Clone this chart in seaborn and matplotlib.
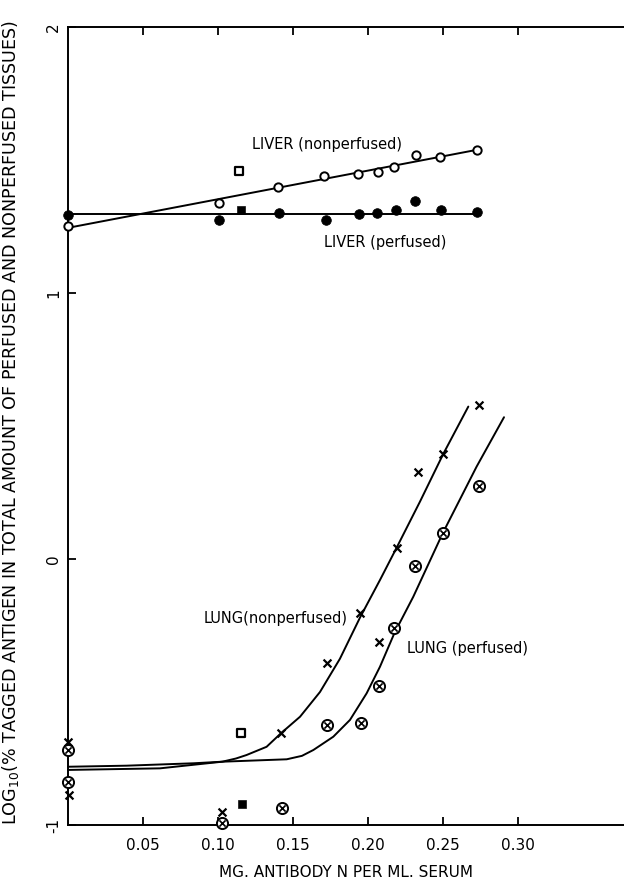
import numpy as np
import pandas as pd
import matplotlib
matplotlib.use("Agg")
import matplotlib.pyplot as plt
import seaborn as sns

sns.set_theme(style="white")
plt.rcParams['font.family'] = ['DejaVu Sans']

# ---- data ----
liver_np_x = [0.0, 0.101, 0.140, 0.171, 0.1936, 0.2064, 0.2176, 0.232, 0.248, 0.2724]
liver_np_y = [1.253, 1.338, 1.400, 1.440, 1.449, 1.456, 1.475, 1.520, 1.511, 1.538]
liver_p_x = [0.0, 0.101, 0.1407, 0.1718, 0.194, 0.206, 0.2187, 0.2316, 0.249, 0.2729]
liver_p_y = [1.293, 1.274, 1.302, 1.273, 1.298, 1.302, 1.312, 1.345, 1.312, 1.303]
liver_sq_open = (0.114, 1.457)
liver_sq_fill = (0.1153, 1.312)
liver_np_fit_x = [0.0, 0.2724]
liver_np_fit_y = [1.245, 1.538]
liver_p_fit_x = [0.0, 0.2729]
liver_p_fit_y = [1.297, 1.297]

lung_np_x = [0.0, 0.001, 0.1029, 0.142, 0.1724, 0.1947, 0.2073, 0.2191, 0.2331, 0.2502, 0.2742]
lung_np_y = [-0.687, -0.887, -0.952, -0.655, -0.392, -0.204, -0.313, 0.0425, 0.328, 0.395, 0.579]
lung_p_x = [0.0, 0.0, 0.1029, 0.1429, 0.1729, 0.1953, 0.2076, 0.2176, 0.2313, 0.2498, 0.274]
lung_p_y = [-0.718, -0.840, -0.994, -0.937, -0.624, -0.618, -0.476, -0.258, -0.026, 0.0965, 0.274]
lung_sq_open = (0.1153, -0.655)
lung_sq_fill = (0.1158, -0.921)

lung_np_fit_x = [0.0, 0.039, 0.0836, 0.1029, 0.112, 0.119, 0.1324, 0.142, 0.1547, 0.168, 0.1813,
                 0.1947, 0.208, 0.2191, 0.2347, 0.2502, 0.2669]
lung_np_fit_y = [-0.781, -0.777, -0.768, -0.762, -0.750, -0.737, -0.706, -0.655, -0.593, -0.500, -0.375,
                 -0.220, -0.079, 0.0425, 0.216, 0.395, 0.573]
lung_p_fit_x = [0.0, 0.0613, 0.1029, 0.1458, 0.1560, 0.1636, 0.1769, 0.188, 0.1991, 0.208, 0.2176,
                0.2302, 0.2498, 0.2724, 0.2907]
lung_p_fit_y = [-0.793, -0.787, -0.762, -0.753, -0.740, -0.718, -0.668, -0.605, -0.505, -0.405, -0.279,
                -0.142, 0.0965, 0.347, 0.533]

x_ticks = [0.05, 0.10, 0.15, 0.20, 0.25, 0.30]
x_ticklabels = ["0.05", "0.10", "0.15", "0.20", "0.25", "0.30"]
y_ticks = [-1, 0, 1, 2]
y_ticklabels = ["-1", "0", "1", "2"]

labels = {
    "LIVER (nonperfused)": (0.123, 1.56),
    "LIVER (perfused)": (0.171, 1.19),
    "LUNG(nonperfused)": (0.0905, -0.225),
    "LUNG (perfused)": (0.2257, -0.335),
}

y_title = "LOG$_{10}$(% TAGGED ANTIGEN IN TOTAL AMOUNT OF PERFUSED AND NONPERFUSED TISSUES)"
x_title = "MG. ANTIBODY N PER ML. SERUM"

# ---- figure ----
fig = plt.figure(figsize=(6.24, 8.85), dpi=100)
ax = fig.add_axes([68 / 624, 60 / 885, (624 - 68) / 624, (825 - 27) / 885])

lw = 1.4
for fx, fy in [(liver_np_fit_x, liver_np_fit_y), (liver_p_fit_x, liver_p_fit_y),
               (lung_np_fit_x, lung_np_fit_y), (lung_p_fit_x, lung_p_fit_y)]:
    sns.lineplot(x=fx, y=fy, ax=ax, color="black", linewidth=lw, sort=False,
                 estimator=None, legend=False, clip_on=False)

sc_kw = dict(ax=ax, legend=False, clip_on=False, zorder=5)
sns.scatterplot(x=liver_np_x, y=liver_np_y, marker="o", s=36, facecolor="white",
                edgecolor="black", linewidth=1.4, **sc_kw)
sns.scatterplot(x=liver_p_x, y=liver_p_y, marker="o", s=48, color="black",
                edgecolor="black", **sc_kw)
sns.scatterplot(x=[liver_sq_open[0], lung_sq_open[0]], y=[liver_sq_open[1], lung_sq_open[1]],
                marker="s", s=28, facecolor="white", edgecolor="black", linewidth=1.6, **sc_kw)
sns.scatterplot(x=[liver_sq_fill[0], lung_sq_fill[0]], y=[liver_sq_fill[1], lung_sq_fill[1]],
                marker="s", s=32, color="black", edgecolor="black", **sc_kw)
sns.scatterplot(x=lung_np_x, y=lung_np_y, marker="x", s=32, color="black",
                linewidth=1.6, **sc_kw)
sns.scatterplot(x=lung_p_x, y=lung_p_y, marker="o", s=64, facecolor="white",
                edgecolor="black", linewidth=1.4, **sc_kw)
sns.scatterplot(x=lung_p_x, y=lung_p_y, marker="x", s=20, color="black",
                linewidth=1.2, **sc_kw)

for txt, (tx, ty) in labels.items():
    ax.text(tx, ty, txt, fontsize=10.5, color="black", ha="left", va="center")

ax.set_xlim(0, 0.3707)
ax.set_ylim(-1, 2)
ax.set_xticks(x_ticks)
ax.set_xticklabels(x_ticklabels, fontsize=11)
ax.set_yticks(y_ticks)
ax.set_yticklabels(y_ticklabels, fontsize=11, rotation=90, va="center")
ax.tick_params(axis="x", direction="in", length=6, width=1.3, top=True, bottom=True,
               pad=9, colors="black")
ax.tick_params(axis="y", direction="in", length=6, width=1.3, left=True, pad=5, colors="black")
for side in ["left", "top", "bottom"]:
    ax.spines[side].set_visible(True)
    ax.spines[side].set_color("black")
    ax.spines[side].set_linewidth(1.4)
ax.spines["right"].set_visible(False)

ax.set_xlabel(x_title, fontsize=11, labelpad=9, color="black")
fig.text(11 / 624, 1 - 423 / 885, y_title, rotation=90, fontsize=12.6,
         ha="center", va="center", color="black")

fig.savefig("out.png", dpi=100, facecolor="white")
